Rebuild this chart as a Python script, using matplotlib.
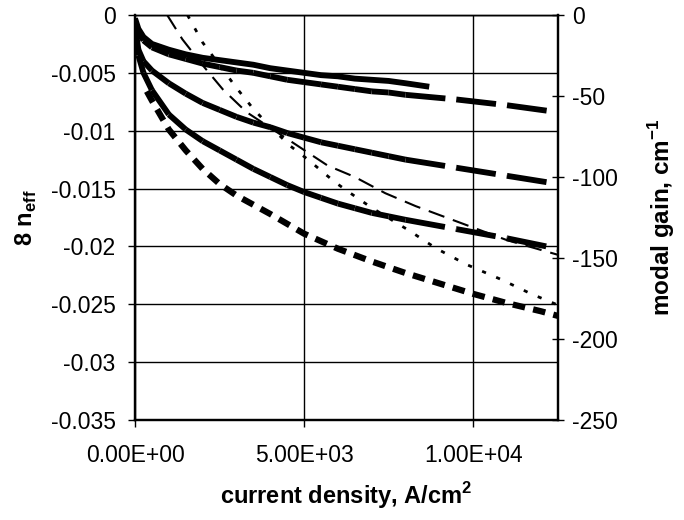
import matplotlib
matplotlib.use("Agg")
import matplotlib.pyplot as plt
from matplotlib.collections import LineCollection

plt.rcParams['font.family'] = ['Liberation Sans', 'DejaVu Sans']
plt.rcParams['mathtext.fontset'] = 'custom'
plt.rcParams['mathtext.rm'] = 'Liberation Sans'
plt.rcParams['mathtext.bf'] = 'Liberation Sans:bold'
plt.rcParams['lines.scale_dashes'] = False

# current density, A/cm^2
x_thick = [0, 100, 250, 500, 1000, 1500, 2000, 2500, 3000, 3500, 4000, 4500,
           5000, 5500, 6000, 6500, 7000, 7500, 8000, 9500, 11000, 12500]
x_a = [0, 100, 250, 500, 1000, 1500, 2000, 2500, 3000, 3500, 4000, 4500,
       5000, 5500, 6000, 6500, 7000, 7500, 8000, 8700]

# delta n_eff curves (left axis)
dn_a = [-0.0003, -0.0012, -0.0019, -0.0025, -0.0030, -0.0034, -0.0037, -0.0039,
        -0.0041, -0.0043, -0.0046, -0.0048, -0.0050, -0.0052, -0.0053, -0.0055,
        -0.0056, -0.0057, -0.0059, -0.0062]
dn_b = [-0.0005, -0.0015, -0.0022, -0.0028, -0.0034, -0.0038, -0.0042, -0.0045,
        -0.0048, -0.0050, -0.0053, -0.0056, -0.0058, -0.0060, -0.0062, -0.0064,
        -0.0066, -0.0067, -0.0069, -0.0073, -0.0078, -0.0084]
dn_c = [-0.0010, -0.0030, -0.0040, -0.0048, -0.0059, -0.0068, -0.0076, -0.0082,
        -0.0088, -0.0093, -0.0097, -0.0102, -0.0106, -0.0110, -0.0113, -0.0116,
        -0.0119, -0.0122, -0.0125, -0.0132, -0.0139, -0.0146]
dn_d = [-0.0015, -0.0035, -0.0050, -0.0065, -0.0086, -0.0099, -0.0109, -0.0117,
        -0.0125, -0.0133, -0.0140, -0.0147, -0.0153, -0.0158, -0.0163, -0.0167,
        -0.0171, -0.0174, -0.0177, -0.0185, -0.0193, -0.0202]

x_e = [350, 500, 1000, 1500, 2000, 2500, 3000, 4000, 5000, 6000, 7000,
       8000, 9000, 10000, 11000, 12000, 12500]
dn_e = [-0.0066, -0.0074, -0.0099, -0.0117, -0.0133, -0.0146, -0.0156,
        -0.0172, -0.0189, -0.0202, -0.0213, -0.0223, -0.0232, -0.0241, -0.0249,
        -0.0256, -0.0260]

# modal gain curves (right axis)
x_f = [950, 1400, 2000, 2600, 3300, 4100, 4900, 5700, 6500, 7400, 8300, 9200,
       10100, 11000, 12500]
gain_f = [0, -15, -31, -46, -60, -71, -82, -93, -100, -110, -118, -125, -132,
          -139, -148]
x_g = [1550, 2000, 2500, 3000, 3500, 4000, 4600, 5100, 5900, 6300, 7000, 8100,
       8900, 9800, 10800, 11700, 12500]
gain_g = [0, -17, -31, -45, -58, -69, -81, -89, -103, -109, -119, -133, -144,
          -154, -163, -172, -179]

yticks_left = [0, -0.005, -0.01, -0.015, -0.02, -0.025, -0.03, -0.035]
yticks_right = [0, -50, -100, -150, -200, -250]
xticks = [0, 5000, 10000]

fig = plt.figure(figsize=(6.84, 5.2), dpi=100)
ax = fig.add_axes([0.1974, 0.1923, 0.8154 - 0.1974, 0.9712 - 0.1923])
ax2 = ax.twinx()

ax.set_xlim(0, 12500)
ax.set_ylim(-0.035, 0)
ax2.set_ylim(-250, 0)

ax.set_yticks(yticks_left)
ax.set_yticklabels([f'{v:g}' for v in yticks_left])
ax.set_xticks(xticks)
ax.set_xticklabels([f'{v:.2E}' for v in xticks])
ax2.set_yticks(yticks_right)
ax2.set_yticklabels([str(v) for v in yticks_right])

ax.grid(True, color='black', linewidth=1.0)
ax.set_axisbelow(True)

for a in (ax, ax2):
    for s in a.spines.values():
        s.set_linewidth(1.6)
    a.spines['top'].set_linewidth(1.0)
ax.tick_params(axis='both', direction='out', length=5, width=1.0,
               labelsize=16.5, colors='black')
ax.tick_params(axis='x', pad=12)
ax.tick_params(axis='y', pad=9)
ax2.tick_params(axis='y', direction='inout', length=9, width=1.0,
                labelsize=16.5, pad=6)

ax.plot(x_a, dn_a, color='black', linewidth=4.2, solid_capstyle='butt')

# Excel-style dashes that restart at every data point
long_dash = (0, (28.8, 8.0))
for ys in (dn_b, dn_c, dn_d):
    segs = [[(x_thick[i], ys[i]), (x_thick[i + 1], ys[i + 1])]
            for i in range(len(x_thick) - 1)]
    lc = LineCollection(segs, colors='black', linewidths=4.2,
                        linestyles=[long_dash], capstyle='butt')
    ax.add_collection(lc)

ax.plot(x_e, dn_e, color='black', linewidth=4.5, linestyle=(0, (9.0, 6.0)),
        dash_capstyle='butt')

ax2.plot(x_f, gain_f, color='black', linewidth=1.5, linestyle=(0, (12.0, 6.5)))
ax2.plot(x_g, gain_g, color='black', linewidth=2.0, linestyle=(0, (3.0, 8.0)))

ax.set_xlabel(r'current density, A/cm$^\mathbf{2}$', fontsize=17,
              fontweight='bold', labelpad=10)
ax.set_ylabel(r'8 n$_\mathbf{eff}$', fontsize=17, fontweight='bold', labelpad=8)
ax2.set_ylabel(r'modal gain, cm$^\mathbf{-1}$', fontsize=17.5, fontweight='bold',
               labelpad=20)

fig.savefig('out.png', dpi=100)
